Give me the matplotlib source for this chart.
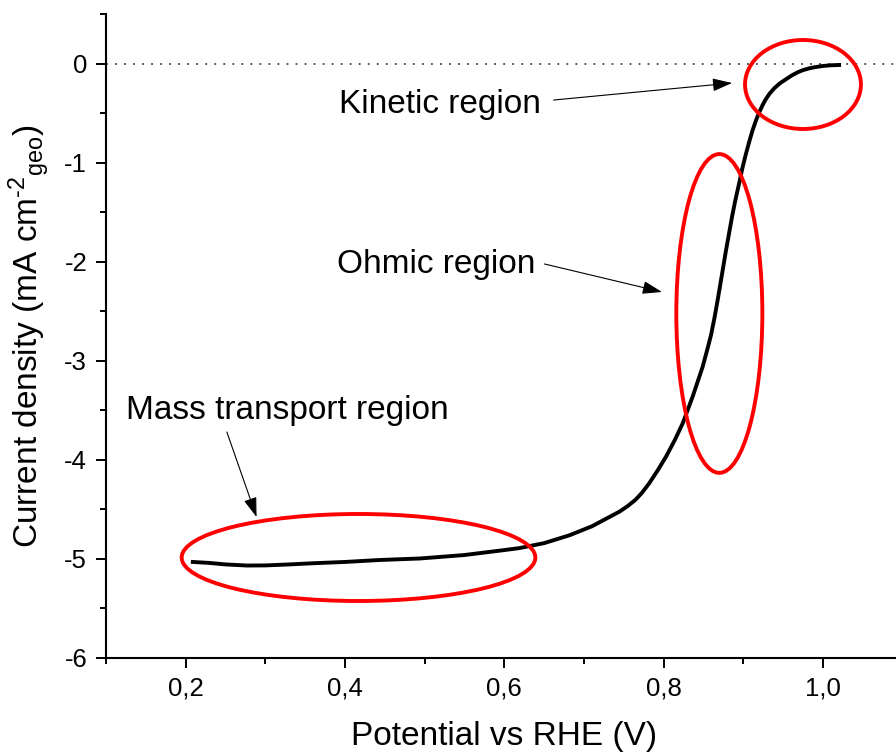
import matplotlib
matplotlib.use('Agg')
import matplotlib.pyplot as plt
from matplotlib.patches import Ellipse
from matplotlib.ticker import MultipleLocator, FuncFormatter

plt.rcParams['font.family'] = ['Liberation Sans', 'DejaVu Sans']
plt.rcParams['mathtext.fontset'] = 'custom'
plt.rcParams['mathtext.rm'] = 'Liberation Sans'
plt.rcParams['mathtext.it'] = 'Liberation Sans'
plt.rcParams['axes.unicode_minus'] = False

# Polarisation curve (potential in V vs RHE, current density in mA cm-2)
potential = [0.209, 0.23, 0.25, 0.277, 0.30, 0.33, 0.36, 0.40, 0.444, 0.494,
             0.55, 0.60, 0.619, 0.65, 0.682, 0.71, 0.745, 0.755, 0.765, 0.773,
             0.782, 0.793, 0.803, 0.814, 0.824, 0.8365, 0.849, 0.855, 0.8595,
             0.864, 0.868, 0.873, 0.878, 0.882, 0.886, 0.890, 0.895, 0.899,
             0.903, 0.907, 0.9117, 0.916, 0.92, 0.924, 0.928, 0.933, 0.939,
             0.946, 0.9535, 0.961, 0.968, 0.975, 0.9828, 0.99, 1.0, 1.01, 1.0204]
current = [-5.03, -5.04, -5.055, -5.066, -5.065, -5.055, -5.043, -5.03, -5.01, -4.995,
           -4.96, -4.91, -4.89, -4.84, -4.76, -4.67, -4.52, -4.465, -4.40, -4.33,
           -4.235, -4.10, -3.967, -3.80, -3.63, -3.36, -3.06, -2.88, -2.74,
           -2.56, -2.38, -2.14, -1.90, -1.72, -1.54, -1.38, -1.20, -1.05,
           -0.92, -0.80, -0.67, -0.57, -0.49, -0.42, -0.36, -0.30, -0.245,
           -0.195, -0.155, -0.115, -0.085, -0.062, -0.044, -0.032, -0.02, -0.013, -0.01]

# Regions: label, text position, arrow tail, arrow tip, ellipse centre, width, height
region_labels = ['Kinetic region', 'Ohmic region', 'Mass transport region']
label_pos = [(0.392, -0.49), (0.390, -2.11), (0.125, -3.586)]
arrow_tail = [(0.662, -0.364), (0.6505, -2.02), (0.2517, -3.717)]
arrow_tip = [(0.886, -0.192), (0.798, -2.303), (0.289, -4.576)]
ellipse_centre = [(0.975, -0.207), (0.870, -2.52), (0.417, -4.985)]
ellipse_w = [0.1455, 0.108, 0.444]
ellipse_h = [0.899, 3.22, 0.879]

fig = plt.figure(figsize=(8.96, 7.55), dpi=100)
ax = fig.add_axes([0.1183, 0.1285, 0.889, 0.8523])

ax.axhline(0, color='#444444', lw=1.3, ls=(0, (1, 4)), zorder=1)
ax.plot(potential, current, color='black', lw=2.8, zorder=3)

for (cx, cy), w, h in zip(ellipse_centre, ellipse_w, ellipse_h):
    ax.add_patch(Ellipse((cx, cy), w, h, fill=False, edgecolor='#ff0000', lw=2.8, zorder=4))

for lab, pos, tail, tip in zip(region_labels, label_pos, arrow_tail, arrow_tip):
    ax.text(pos[0], pos[1], lab, fontsize=24, ha='left', va='baseline')
    ax.annotate('', xy=tip, xytext=tail,
                arrowprops=dict(arrowstyle='-|>,head_length=0.6,head_width=0.2',
                                lw=0.8, color='black', mutation_scale=20,
                                shrinkA=0, shrinkB=0))

ax.set_xlim(0.1, 1.1)
ax.set_ylim(-6, 0.5)
ax.xaxis.set_major_locator(MultipleLocator(0.2))
ax.xaxis.set_minor_locator(MultipleLocator(0.1))
ax.yaxis.set_major_locator(MultipleLocator(1))
ax.yaxis.set_minor_locator(MultipleLocator(0.5))
ax.xaxis.set_major_formatter(FuncFormatter(lambda v, p: ('%.1f' % v).replace('.', ',')))
ax.yaxis.set_major_formatter(FuncFormatter(lambda v, p: '%d' % round(v)))

for s in ['top', 'right']:
    ax.spines[s].set_visible(False)
for s in ['left', 'bottom']:
    ax.spines[s].set_linewidth(1.5)
ax.tick_params(which='major', direction='out', length=7.5, width=1.4, labelsize=18.5, pad=6)
ax.tick_params(which='minor', direction='out', length=4.5, width=1.4)

ax.set_xlabel('Potential vs RHE (V)', fontsize=24)
ax.set_ylabel('Current density (mA cm$^{\\mathrm{\u20102}}$$_{\\mathrm{geo}}$)', fontsize=24)
ax.xaxis.set_label_coords(0.5, -0.098)
ax.yaxis.set_label_coords(-0.068, 0.5)

fig.savefig('out.png', dpi=100)
